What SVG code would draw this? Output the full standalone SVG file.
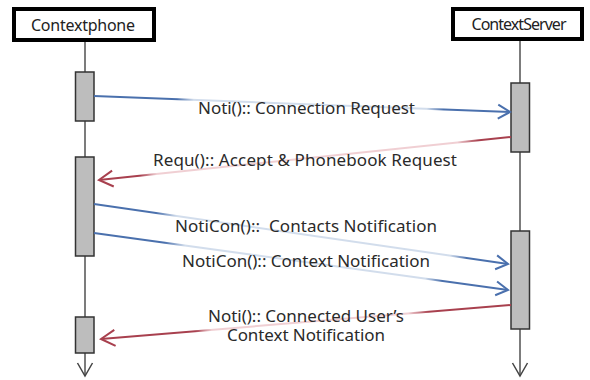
<svg xmlns="http://www.w3.org/2000/svg" width="590" height="380" viewBox="0 0 590 380">
<style>
.hdr{fill:#fff;stroke:#000;stroke-width:4}
.htxt{font-family:"Noto Sans","Liberation Sans",sans-serif;font-size:16px;fill:#222;text-anchor:middle}
.life{stroke:#505050;stroke-width:1.5;fill:none}
.act{fill:#bdbdbd;stroke:#333;stroke-width:1.5}
.lbl{font-family:"Noto Sans","Liberation Sans",sans-serif;font-size:17px;fill:#2a2a2a;text-anchor:middle}
.msg{fill:none;stroke-width:2}
</style>
<defs>
<marker id="ab" markerUnits="userSpaceOnUse" markerWidth="20" markerHeight="20" refX="0" refY="0" viewBox="-14 -10 16 20" orient="auto">
<path d="M-12,-7 L0,0 L-12,7" fill="none" stroke="#4a70ad" stroke-width="2"/>
</marker>
<marker id="ar" markerUnits="userSpaceOnUse" markerWidth="20" markerHeight="20" refX="0" refY="0" viewBox="-14 -10 16 20" orient="auto">
<path d="M-14,-8 L0,0 L-14,8" fill="none" stroke="#a8404e" stroke-width="2"/>
</marker>
<marker id="al" markerUnits="userSpaceOnUse" markerWidth="20" markerHeight="20" refX="0" refY="0" viewBox="-14 -10 16 20" orient="auto">
<path d="M-13,-7.5 L0,0 L-13,7.5" fill="none" stroke="#444" stroke-width="1.5"/>
</marker>
<linearGradient id="g1" gradientUnits="userSpaceOnUse" x1="94" y1="96" x2="510" y2="112">
<stop offset="0" stop-color="#4a70ad"/><stop offset="0.2" stop-color="#4a70ad"/><stop offset="0.24" stop-color="#d2ddec"/><stop offset="0.8" stop-color="#d2ddec"/><stop offset="0.84" stop-color="#4a70ad"/><stop offset="1" stop-color="#4a70ad"/>
</linearGradient>
<linearGradient id="g2" gradientUnits="userSpaceOnUse" x1="511" y1="137" x2="99" y2="180">
<stop offset="0" stop-color="#a8404e"/><stop offset="0.08" stop-color="#a8404e"/><stop offset="0.13" stop-color="#f0cfd3"/><stop offset="0.86" stop-color="#f0cfd3"/><stop offset="0.9" stop-color="#a8404e"/><stop offset="1" stop-color="#a8404e"/>
</linearGradient>
<linearGradient id="g3" gradientUnits="userSpaceOnUse" x1="94" y1="204" x2="508" y2="264">
<stop offset="0" stop-color="#4a70ad"/><stop offset="0.15" stop-color="#4a70ad"/><stop offset="0.2" stop-color="#d2ddec"/><stop offset="0.86" stop-color="#d2ddec"/><stop offset="0.9" stop-color="#4a70ad"/><stop offset="1" stop-color="#4a70ad"/>
</linearGradient>
<linearGradient id="g4" gradientUnits="userSpaceOnUse" x1="94" y1="233" x2="508" y2="290">
<stop offset="0" stop-color="#4a70ad"/><stop offset="0.17" stop-color="#4a70ad"/><stop offset="0.22" stop-color="#d2ddec"/><stop offset="0.8" stop-color="#d2ddec"/><stop offset="0.84" stop-color="#4a70ad"/><stop offset="1" stop-color="#4a70ad"/>
</linearGradient>
<linearGradient id="g5" gradientUnits="userSpaceOnUse" x1="511" y1="305" x2="101" y2="339">
<stop offset="0" stop-color="#a8404e"/><stop offset="0.2" stop-color="#a8404e"/><stop offset="0.25" stop-color="#f0cfd3"/><stop offset="0.73" stop-color="#f0cfd3"/><stop offset="0.77" stop-color="#a8404e"/><stop offset="1" stop-color="#a8404e"/>
</linearGradient>
</defs>

<g id="lifelines">
<line class="life" x1="85" y1="42" x2="85" y2="376" marker-end="url(#al)"/>
<line class="life" x1="520" y1="41" x2="520" y2="376" marker-end="url(#al)"/>
</g>

<g id="contextphone">
<rect class="hdr" x="14" y="9" width="140" height="31"/>
<text class="htxt" x="83" y="31" textLength="104">Contextphone</text>
</g>
<g id="contextserver">
<rect class="hdr" x="453" y="9" width="129" height="30"/>
<text class="htxt" x="519" y="30" textLength="95">ContextServer</text>
</g>

<g id="activations">
<rect class="act" x="75.5" y="72" width="18.5" height="49"/>
<rect class="act" x="75.5" y="157" width="18.5" height="99"/>
<rect class="act" x="75.5" y="317" width="18.5" height="36"/>
<rect class="act" x="511" y="83" width="18.5" height="69"/>
<rect class="act" x="511" y="231" width="18.5" height="98"/>
</g>

<g id="connectors">
<line class="msg" x1="94" y1="96" x2="510" y2="112" stroke="url(#g1)" marker-end="url(#ab)"/>
<line class="msg" x1="511" y1="137" x2="99" y2="180" stroke="url(#g2)" marker-end="url(#ar)"/>
<line class="msg" x1="94" y1="204" x2="508" y2="264" stroke="url(#g3)" marker-end="url(#ab)"/>
<line class="msg" x1="94" y1="233" x2="508" y2="290" stroke="url(#g4)" marker-end="url(#ab)"/>
<line class="msg" x1="511" y1="305" x2="101" y2="339" stroke="url(#g5)" marker-end="url(#ar)"/>
</g>

<g id="labels">
<text class="lbl" x="306.5" y="114" textLength="217">Noti():: Connection Request</text>
<text class="lbl" x="305" y="166" textLength="304">Requ():: Accept &amp; Phonebook Request</text>
<text class="lbl" x="306" y="232" textLength="262" xml:space="preserve">NotiCon()::  Contacts Notification</text>
<text class="lbl" x="306" y="267" textLength="248">NotiCon():: Context Notification</text>
<text class="lbl"><tspan x="306" y="322" textLength="196">Noti():: Connected User’s</tspan><tspan x="306" y="341" textLength="158">Context Notification</tspan></text>
</g>
</svg>
